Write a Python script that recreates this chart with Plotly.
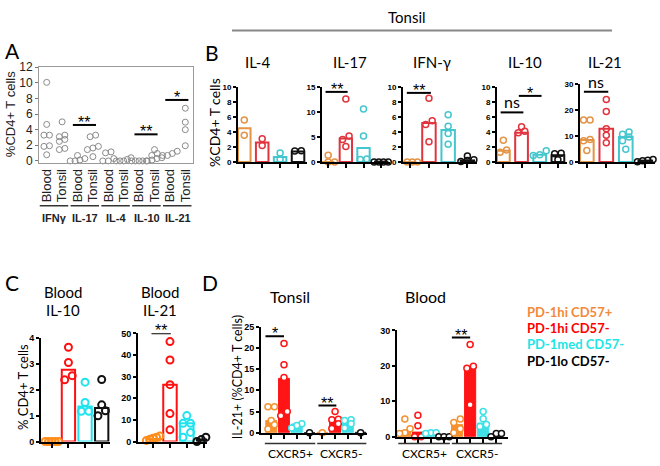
import plotly.graph_objects as go

W, H = 660, 466

# ---------------- colours ----------------
B_COLORS = ["#E39446", "#E0353F", "#45C6CF", "#111111"]
C_COLORS = ["#FF8C1A", "#FF1010", "#1FE3EE", "#111111"]
D_COLORS = ["#F5922F", "#FF1515", "#3FE0E6", "#111111"]
LEGEND_COLORS = ["#F28A3A", "#FF0000", "#22E5E5", "#000000"]
LEGEND_LABELS = ["PD-1hi CD57+", "PD-1hi CD57-", "PD-1med CD57-", "PD-1lo CD57-"]

# ---------------- Panel A data ----------------
A_cytokines = ["IFNγ", "IL-17", "IL-4", "IL-10", "IL-21"]
A_tissues = ["Blood", "Tonsil"]
A_ifng_blood = [10.05, 4.67, 3.3, 3.3, 1.94, 1.86, 0.79]
A_ifng_tonsil = [5.0, 3.3, 3.1, 2.75, 2.5, 1.6, 1.45]
A_il17_blood = [0.7, 0.3, 0.12, 0.0, 0.0]
A_il17_tonsil = [3.3, 3.1, 1.86, 1.65, 1.45, 0.55]
A_il4_blood = [1.16, 1.03, 0.3, 0.0, 0.0]
A_il4_tonsil = [0.41, 0.2, 0.0, 0.0, 0.0]
A_il10_blood = [0.0, 0.0, 0.0, 0.0, 0.0]
A_il10_tonsil = [1.45, 0.95, 0.7, 0.41, 0.3, 0.12, 0.0]
A_il21_blood = [1.24, 0.95, 0.7, 0.7]
A_il21_tonsil = [6.74, 4.96, 4.0, 1.94]
A_sig_group = [1, 3, 4]
A_sig_height = [4.6, 3.4, 7.8]
A_sig_label = ["**", "**", "*"]

# ---------------- Panel B data (tonsil) ----------------
B_titles = ["IL-4", "IL-17", "IFN-γ", "IL-10", "IL-21"]
B_ymax = [10, 15, 10, 10, 30]
B_dtick = [2, 5, 2, 2, 10]
B_il4_bars = [4.5, 2.6, 0.64, 1.4]
B_il4_pts = [[5.58, 3.56], [3.1, 2.2], [1.2, 0.34], [1.5, 1.45]]
B_il17_bars = [0.0, 4.7, 2.8, 0.05]
B_il17_pts = [[0, 0, 0, 1.35], [12.6, 5.2, 4.5, 3.1], [10.6, 5.2, 0.6, 0.5], [0, 0, 0, 0]]
B_ifng_bars = [0.0, 5.2, 4.24, 0.2]
B_ifng_pts = [[0, 0, 0, 0], [8.5, 5.5, 5.0, 2.7], [6.3, 4.75, 3.8, 2.35], [0.8, 0.3, 0.2, 0.05]]
B_il10_bars = [1.5, 3.9, 0.95, 0.9]
B_il10_pts = [[2.9, 1.6, 1.3], [4.7, 4.1, 3.9], [1.5, 0.95, 0.86], [1.15, 1.1, 0.3]]
B_il21_bars = [8.4, 12.75, 9.6, 0.5]
B_il21_pts = [[16.1, 16.1, 8.6, 8.1, 4.4], [24.0, 19.4, 12.75, 10.25, 7.4],
              [11.5, 10.6, 9.6, 8.1, 4.9], [0.9, 0.6, 0.4, 0.1]]
B_sigs = [[], [(0, 1, 14.0, "**")], [(0, 1, 9.2, "**")],
          [(0, 1, 6.6, "ns"), (1, 2, 8.8, "*")], [(0, 1, 27.0, "ns")]]

# ---------------- Panel C data (blood) ----------------
C_titles = [("Blood", "IL-10"), ("Blood", "IL-21")]
C_il10_bars = [0.0, 2.78, 1.36, 1.3]
C_il10_pts = [[0, 0, 0, 0, 0], [3.65, 3.06, 2.55, 2.39], [2.3, 1.51, 1.17, 1.17], [2.4, 1.42, 1.19, 1.0]]
C_il21_bars = [1.2, 26.3, 8.4, 0.9]
C_il21_pts = [[2.5, 2.0, 1.5, 1.0, 0.5], [46.2, 37.7, 26.3, 12.9, 5.4],
              [12.0, 8.4, 8.4, 4.2, 2.0], [2.4, 2.0, 0.9, 0.0]]

# ---------------- Panel D data (IL-21, CXCR5+ / CXCR5-) ----------------
D_groups = ["CXCR5+", "CXCR5-"]
D_tonsil_bars = [2.9, 12.8, 2.05, 0.0, 0.1, 3.05, 3.05, 0.1]
D_tonsil_pts = [[6.1, 6.1, 2.9, 1.9, 0.9], [21.0, 16.0, 13.0, 5.0, 4.0], [2.1, 1.7, 1.1], [0.0],
                [0.0], [5.0, 3.2, 3.05, 2.1, 1.0], [3.05, 2.9, 2.1, 1.1], [0.0]]
D_blood_bars = [1.56, 1.28, 1.1, 0.0, 3.4, 19.3, 3.85, 0.2]
D_blood_pts = [[5.0, 2.2, 1.1, 0.9], [6.05, 3.1, 0.0, 0.0], [1.1, 1.1, 0.9], [0.0, 0.0, 0.0],
               [5.0, 4.0, 2.2, 1.1], [26.0, 19.9, 19.3, 9.0], [7.1, 5.05, 3.4, 2.9], [0.9, 0.9, 0.0]]

# =====================================================================
traces = []
shapes = []
annotations = []
layout = dict(width=W, height=H, margin=dict(l=0, r=0, t=0, b=0, pad=0),
              paper_bgcolor="white", plot_bgcolor="rgba(0,0,0,0)", showlegend=False)

ARIAL = "Liberation Sans, Arial, sans-serif"
CAL = "Lato, Open Sans, sans-serif"


def pxx(x):
    return x / W


def pxy(y):
    return 1 - y / H


def names(k):
    if k == 1:
        return "xaxis", "yaxis", "x", "y"
    return f"xaxis{k}", f"yaxis{k}", f"x{k}", f"y{k}"


def swarm(vals, ypp, xpp, d, maxw):
    idx = sorted(range(len(vals)), key=lambda i: vals[i])
    clusters = []
    for i in idx:
        if clusters and abs(vals[i] - vals[clusters[-1][0]]) * ypp < d * 0.8:
            clusters[-1].append(i)
        else:
            clusters.append([i])
    offs = [0.0] * len(vals)
    for cl in clusters:
        n = len(cl)
        if n == 1:
            continue
        sp = min(d, maxw / (n - 1))
        for j, i in enumerate(cl):
            offs[i] = (j - (n - 1) / 2) * sp / xpp
    return offs


def text(x, y, s, size, family=CAL, color="black", bold=False, xanchor="center", yanchor="middle", angle=0):
    if bold:
        s = f"<b>{s}</b>"
    annotations.append(dict(xref="paper", yref="paper", x=pxx(x), y=pxy(y), text=s, showarrow=False,
                            font=dict(size=size, family=family, color=color),
                            xanchor=xanchor, yanchor=yanchor, textangle=angle))


def sig(k, x0, x1, y, label):
    _, _, xr, yr = names(k)
    shapes.append(dict(type="line", xref=xr, yref=yr, x0=x0, x1=x1, y0=y, y1=y,
                       line=dict(color="black", width=2)))
    if label == "ns":
        annotations.append(dict(xref=xr, yref=yr, x=(x0 + x1) / 2, y=y, text="ns", showarrow=False,
                                yanchor="bottom", yshift=-1, font=dict(size=16, family=CAL, color="black")))
    else:
        annotations.append(dict(xref=xr, yref=yr, x=(x0 + x1) / 2, y=y, text=label, showarrow=False,
                                yanchor="bottom", yshift=-8, font=dict(size=16, family=ARIAL, color="black")))


def bar_panel(k, xpx, ypx, xrange, ymax, dtick, bars, pts, colors, filled, msize, mline, bwidth,
              tickfont_size=8):
    xa, ya, xr, yr = names(k)
    layout[xa] = dict(domain=[pxx(xpx[0]), pxx(xpx[1])], range=xrange, anchor=yr,
                      showline=True, linecolor="black", linewidth=2, ticks="outside", ticklen=4,
                      tickwidth=1.5, tickcolor="black", tickvals=list(range(len(bars))),
                      showticklabels=False, showgrid=False, zeroline=False, fixedrange=True)
    layout[ya] = dict(domain=[pxy(ypx[1]), pxy(ypx[0])], range=[0, ymax], anchor=xr,
                      showline=True, linecolor="black", linewidth=2, ticks="outside", ticklen=3,
                      tickwidth=1.5, tickcolor="black", dtick=dtick, tick0=0,
                      tickfont=dict(size=tickfont_size, family=ARIAL, color="black", weight="bold"),
                      showgrid=False, zeroline=False, fixedrange=True)
    n = len(bars)
    cols = [colors[i % 4] for i in range(n)]
    traces.append(go.Bar(x=list(range(n)), y=bars, width=bwidth, xaxis=xr, yaxis=yr,
                         marker=dict(color=cols if filled else "rgba(0,0,0,0)",
                                     line=dict(color=cols, width=2 if not filled else 1))))
    ypp = (ypx[1] - ypx[0]) / ymax
    xpp = (xpx[1] - xpx[0]) / (xrange[1] - xrange[0])
    for i, vals in enumerate(pts):
        offs = swarm(vals, ypp, xpp, msize + 0.5, 0.8 * xpp)
        traces.append(go.Scatter(x=[i + o for o in offs], y=vals, mode="markers", xaxis=xr, yaxis=yr,
                                 cliponaxis=False,
                                 marker=dict(symbol="circle", size=msize,
                                             color="white" if filled else "rgba(0,0,0,0)",
                                             line=dict(color=cols[i], width=mline))))


# ======================= Panel A =======================
A_values = [A_ifng_blood, A_ifng_tonsil, A_il17_blood, A_il17_tonsil, A_il4_blood,
            A_il4_tonsil, A_il10_blood, A_il10_tonsil, A_il21_blood, A_il21_tonsil]
A_xpx, A_ypx, A_yr = (39, 193), (61.7, 160), (-0.25, 12)
layout["xaxis"] = dict(domain=[pxx(A_xpx[0]), pxx(A_xpx[1])], range=[-0.5, 9.5], anchor="y",
                       showline=True, mirror=True, linecolor="#9a9a9a", linewidth=1, ticks="",
                       tickvals=list(range(10)), ticktext=A_tissues * 5, tickangle=-90,
                       tickfont=dict(size=13, family=ARIAL, color="#222"), showgrid=False,
                       zeroline=False, fixedrange=True)
layout["yaxis"] = dict(domain=[pxy(A_ypx[1]), pxy(A_ypx[0])], range=list(A_yr), anchor="x",
                       showline=True, mirror=True, linecolor="#9a9a9a", linewidth=1, ticks="outside",
                       ticklen=3, tickcolor="#777", dtick=2, tick0=0,
                       tickfont=dict(size=12, family=ARIAL, color="#222"), showgrid=False,
                       zeroline=False, fixedrange=True)
A_ypp = (A_ypx[1] - A_ypx[0]) / (A_yr[1] - A_yr[0])
A_xpp = (A_xpx[1] - A_xpx[0]) / 10
for i, vals in enumerate(A_values):
    offs = swarm(vals, A_ypp, A_xpp, 5.5, 0.95 * A_xpp)
    traces.append(go.Scatter(x=[i + o for o in offs], y=vals, mode="markers", xaxis="x", yaxis="y",
                             cliponaxis=False,
                             marker=dict(symbol="circle", size=6, color="rgba(0,0,0,0)",
                                         line=dict(color="#8a8a8a", width=1))))
for g, h, lab in zip(A_sig_group, A_sig_height, A_sig_label):
    sig(1, 2 * g - 0.3, 2 * g + 1.2, h, lab)
for g, name in enumerate(A_cytokines):
    shapes.append(dict(type="line", xref="x", yref="paper", x0=2 * g - 0.45, x1=2 * g + 1.4,
                       y0=pxy(204), y1=pxy(204), line=dict(color="#333", width=1.5)))
    annotations.append(dict(xref="x", yref="paper", x=2 * g + 0.5, y=pxy(217), text=f"<b>{name}</b>",
                            showarrow=False, font=dict(size=11, family=ARIAL, color="#222"),
                            xanchor="center", yanchor="middle"))
text(12, 45, "A", 21)
text(10, 110, "%CD4+ T cells", 13, family=ARIAL, color="#222", angle=-90)

# ======================= Panel B =======================
B_bars = [B_il4_bars, B_il17_bars, B_ifng_bars, B_il10_bars, B_il21_bars]
B_pts = [B_il4_pts, B_il17_pts, B_ifng_pts, B_il10_pts, B_il21_pts]
B_xpx = [(238, 307), (322, 390), (403, 477), (497, 567), (580, 655)]
B_top = [82, 82, 82, 82, 79]
B_title_x = [257, 350, 432, 525, 605]
for j in range(5):
    k = 2 + j
    xr = [-0.35, 3.5]
    bar_panel(k, B_xpx[j], (B_top[j], 159), xr, B_ymax[j], B_dtick[j], B_bars[j], B_pts[j],
              B_COLORS, False, 6, 1.5, 0.7, 8)
    for (a, b, h, lab) in B_sigs[j]:
        sig(k, a - 0.15, b + 0.1, h, lab)
    text(B_title_x[j], 56, B_titles[j], 15)
text(212, 47, "B", 21)
text(215, 119, "%CD4+ T cells", 14, angle=-90)
text(407, 10, "Tonsil", 15)
shapes.append(dict(type="line", xref="paper", yref="paper", x0=pxx(232), x1=pxx(612),
                   y0=pxy(24), y1=pxy(24), line=dict(color="#888", width=2)))

# ======================= Panel C =======================
bar_panel(7, (41, 110), (340, 446), [-0.65, 3.5], 4, 1, C_il10_bars, C_il10_pts,
          C_COLORS, False, 7, 2, 0.8, 9)
sig(7, -0.25, 1.0, 4.15, "***")
bar_panel(8, (138, 207), (335, 446), [-0.9, 3.2], 50, 10, C_il21_bars, C_il21_pts,
          C_COLORS, False, 7, 2, 0.8, 9)
sig(8, -0.1, 1.05, 50.0, "**")
for cx, (l1, l2) in zip((63, 160), C_titles):
    text(cx, 293, l1, 15)
    text(cx, 311, l2, 15)
text(12, 283, "C", 21)
text(23, 390, "% CD4+ T cells", 13, angle=-90)

# ======================= Panel D =======================
bar_panel(9, (261, 367), (328, 437), [-0.8, 7.5], 25, 5, D_tonsil_bars, D_tonsil_pts,
          D_COLORS, True, 6, 1.5, 0.85, 9)
sig(9, -0.45, 1.0, 22.7, "*")
sig(9, 3.7, 5.1, 6.4, "**")
bar_panel(10, (397, 508), (332, 441), [-0.6, 7.9], 30, 10, D_blood_bars, D_blood_pts,
          D_COLORS, True, 6, 1.5, 0.85, 9)
sig(10, 3.6, 5.0, 28.0, "**")
for k, ypix in ((9, 448), (10, 448)):
    xr = "x9" if k == 9 else "x10"
    for g, name in enumerate(D_groups):
        x0 = 4 * g - 0.5 + (0.1 if g else 0)
        x1 = 4 * g + 3.45
        shapes.append(dict(type="line", xref=xr, yref="paper", x0=x0, x1=x1, y0=pxy(ypix), y1=pxy(ypix),
                           line=dict(color="#333", width=1.5)))
        annotations.append(dict(xref=xr, yref="paper", x=4 * g + 1.5, y=pxy(458), text=name,
                                showarrow=False, font=dict(size=12, family=CAL, color="black"),
                                xanchor="center", yanchor="middle"))
text(290, 297, "Tonsil", 16)
text(425, 297, "Blood", 16)
text(210, 283, "D", 21)
text(237, 380, "IL-21+ (%CD4+ T cells)", 12.5, angle=-90)

for i, (lab, col) in enumerate(zip(LEGEND_LABELS, LEGEND_COLORS)):
    text(525, 313 + i * 16.7, lab, 13, color=col, bold=True, xanchor="left")

layout["shapes"] = shapes
layout["annotations"] = annotations
fig = go.Figure(data=traces, layout=layout)
fig.write_html("out.html", config={"displayModeBar": False},
               post_script="document.body.style.margin='0';")
